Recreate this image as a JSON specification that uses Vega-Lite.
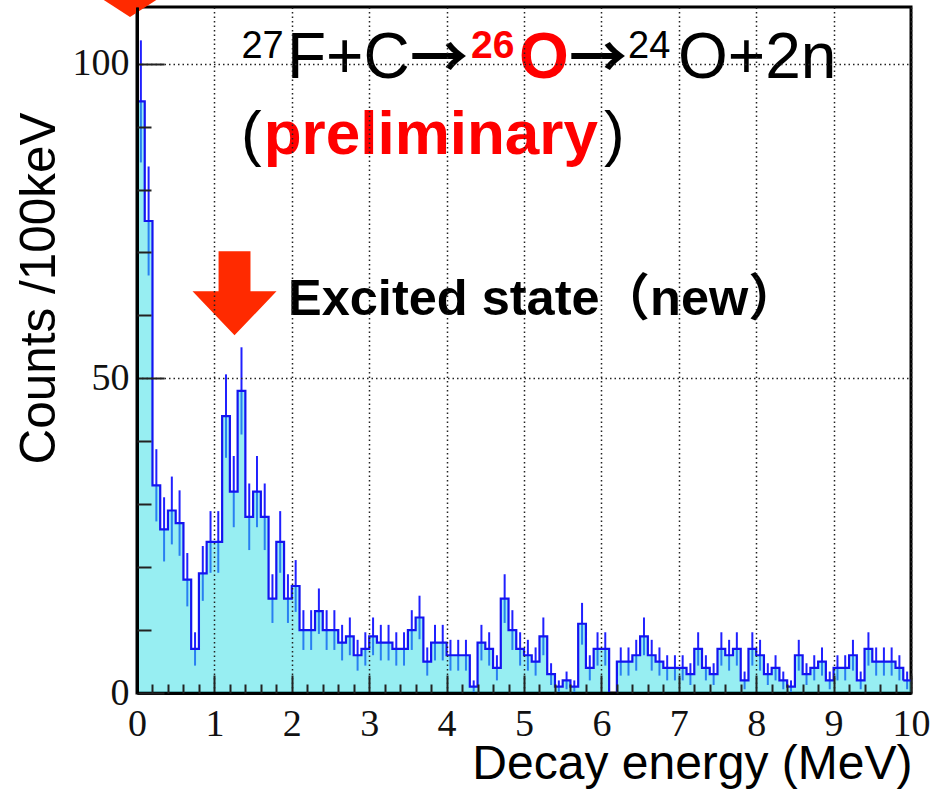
{
  "$schema": "https://vega.github.io/schema/vega-lite/v6.json",
  "width": 774,
  "height": 686,
  "autosize": {"type": "none"},
  "padding": {"left": 137, "top": 7, "right": 20, "bottom": 96},
  "background": "white",
  "view": {"stroke": "black", "strokeWidth": 3},
  "datasets": {
    "hist": [
      {"lo":0.0,"hi":0.1,"c":0.05,"n":94,"err":9.7},
      {"lo":0.1,"hi":0.2,"c":0.15,"n":75,"err":8.66},
      {"lo":0.2,"hi":0.3,"c":0.25,"n":33,"err":5.74},
      {"lo":0.3,"hi":0.4,"c":0.35,"n":26,"err":5.1},
      {"lo":0.4,"hi":0.5,"c":0.45,"n":29,"err":5.39},
      {"lo":0.5,"hi":0.6,"c":0.55,"n":27,"err":5.2},
      {"lo":0.6,"hi":0.7,"c":0.65,"n":18,"err":4.24},
      {"lo":0.7,"hi":0.8,"c":0.75,"n":7,"err":2.65},
      {"lo":0.8,"hi":0.9,"c":0.85,"n":19,"err":4.36},
      {"lo":0.9,"hi":1.0,"c":0.95,"n":24,"err":4.9},
      {"lo":1.0,"hi":1.1,"c":1.05,"n":24,"err":4.9},
      {"lo":1.1,"hi":1.2,"c":1.15,"n":44,"err":6.63},
      {"lo":1.2,"hi":1.3,"c":1.25,"n":32,"err":5.66},
      {"lo":1.3,"hi":1.4,"c":1.35,"n":48,"err":6.93},
      {"lo":1.4,"hi":1.5,"c":1.45,"n":28,"err":5.29},
      {"lo":1.5,"hi":1.6,"c":1.55,"n":32,"err":5.66},
      {"lo":1.6,"hi":1.7,"c":1.65,"n":28,"err":5.29},
      {"lo":1.7,"hi":1.8,"c":1.75,"n":15,"err":3.87},
      {"lo":1.8,"hi":1.9,"c":1.85,"n":24,"err":4.9},
      {"lo":1.9,"hi":2.0,"c":1.95,"n":15,"err":3.87},
      {"lo":2.0,"hi":2.1,"c":2.05,"n":17,"err":4.12},
      {"lo":2.1,"hi":2.2,"c":2.15,"n":10,"err":3.16},
      {"lo":2.2,"hi":2.3,"c":2.25,"n":10,"err":3.16},
      {"lo":2.3,"hi":2.4,"c":2.35,"n":13,"err":3.61},
      {"lo":2.4,"hi":2.5,"c":2.45,"n":10,"err":3.16},
      {"lo":2.5,"hi":2.6,"c":2.55,"n":10,"err":3.16},
      {"lo":2.6,"hi":2.7,"c":2.65,"n":8,"err":2.83},
      {"lo":2.7,"hi":2.8,"c":2.75,"n":9,"err":3},
      {"lo":2.8,"hi":2.9,"c":2.85,"n":6,"err":2.45},
      {"lo":2.9,"hi":3.0,"c":2.95,"n":7,"err":2.65},
      {"lo":3.0,"hi":3.1,"c":3.05,"n":9,"err":3},
      {"lo":3.1,"hi":3.2,"c":3.15,"n":8,"err":2.83},
      {"lo":3.2,"hi":3.3,"c":3.25,"n":8,"err":2.83},
      {"lo":3.3,"hi":3.4,"c":3.35,"n":7,"err":2.65},
      {"lo":3.4,"hi":3.5,"c":3.45,"n":7,"err":2.65},
      {"lo":3.5,"hi":3.6,"c":3.55,"n":10,"err":3.16},
      {"lo":3.6,"hi":3.7,"c":3.65,"n":12,"err":3.46},
      {"lo":3.7,"hi":3.8,"c":3.75,"n":5,"err":2.24},
      {"lo":3.8,"hi":3.9,"c":3.85,"n":8,"err":2.83},
      {"lo":3.9,"hi":4.0,"c":3.95,"n":8,"err":2.83},
      {"lo":4.0,"hi":4.1,"c":4.05,"n":6,"err":2.45},
      {"lo":4.1,"hi":4.2,"c":4.15,"n":6,"err":2.45},
      {"lo":4.2,"hi":4.3,"c":4.25,"n":6,"err":2.45},
      {"lo":4.3,"hi":4.4,"c":4.35,"n":1,"err":1},
      {"lo":4.4,"hi":4.5,"c":4.45,"n":8,"err":2.83},
      {"lo":4.5,"hi":4.6,"c":4.55,"n":7,"err":2.65},
      {"lo":4.6,"hi":4.7,"c":4.65,"n":4,"err":2},
      {"lo":4.7,"hi":4.8,"c":4.75,"n":15,"err":3.87},
      {"lo":4.8,"hi":4.9,"c":4.85,"n":10,"err":3.16},
      {"lo":4.9,"hi":5.0,"c":4.95,"n":7,"err":2.65},
      {"lo":5.0,"hi":5.1,"c":5.05,"n":6,"err":2.45},
      {"lo":5.1,"hi":5.2,"c":5.15,"n":5,"err":2.24},
      {"lo":5.2,"hi":5.3,"c":5.25,"n":9,"err":3},
      {"lo":5.3,"hi":5.4,"c":5.35,"n":3,"err":1.73},
      {"lo":5.4,"hi":5.5,"c":5.45,"n":1,"err":1},
      {"lo":5.5,"hi":5.6,"c":5.55,"n":2,"err":1.41},
      {"lo":5.6,"hi":5.7,"c":5.65,"n":1,"err":1},
      {"lo":5.7,"hi":5.8,"c":5.75,"n":11,"err":3.32},
      {"lo":5.8,"hi":5.9,"c":5.85,"n":4,"err":2},
      {"lo":5.9,"hi":6.0,"c":5.95,"n":7,"err":2.65},
      {"lo":6.0,"hi":6.1,"c":6.05,"n":7,"err":2.65},
      {"lo":6.1,"hi":6.2,"c":6.15,"n":0,"err":0},
      {"lo":6.2,"hi":6.3,"c":6.25,"n":5,"err":2.24},
      {"lo":6.3,"hi":6.4,"c":6.35,"n":5,"err":2.24},
      {"lo":6.4,"hi":6.5,"c":6.45,"n":6,"err":2.45},
      {"lo":6.5,"hi":6.6,"c":6.55,"n":9,"err":3},
      {"lo":6.6,"hi":6.7,"c":6.65,"n":6,"err":2.45},
      {"lo":6.7,"hi":6.8,"c":6.75,"n":5,"err":2.24},
      {"lo":6.8,"hi":6.9,"c":6.85,"n":4,"err":2},
      {"lo":6.9,"hi":7.0,"c":6.95,"n":4,"err":2},
      {"lo":7.0,"hi":7.1,"c":7.05,"n":4,"err":2},
      {"lo":7.1,"hi":7.2,"c":7.15,"n":3,"err":1.73},
      {"lo":7.2,"hi":7.3,"c":7.25,"n":7,"err":2.65},
      {"lo":7.3,"hi":7.4,"c":7.35,"n":4,"err":2},
      {"lo":7.4,"hi":7.5,"c":7.45,"n":3,"err":1.73},
      {"lo":7.5,"hi":7.6,"c":7.55,"n":7,"err":2.65},
      {"lo":7.6,"hi":7.7,"c":7.65,"n":6,"err":2.45},
      {"lo":7.7,"hi":7.8,"c":7.75,"n":7,"err":2.65},
      {"lo":7.8,"hi":7.9,"c":7.85,"n":2,"err":1.41},
      {"lo":7.9,"hi":8.0,"c":7.95,"n":7,"err":2.65},
      {"lo":8.0,"hi":8.1,"c":8.05,"n":6,"err":2.45},
      {"lo":8.1,"hi":8.2,"c":8.15,"n":3,"err":1.73},
      {"lo":8.2,"hi":8.3,"c":8.25,"n":4,"err":2},
      {"lo":8.3,"hi":8.4,"c":8.35,"n":2,"err":1.41},
      {"lo":8.4,"hi":8.5,"c":8.45,"n":1,"err":1},
      {"lo":8.5,"hi":8.6,"c":8.55,"n":6,"err":2.45},
      {"lo":8.6,"hi":8.7,"c":8.65,"n":3,"err":1.73},
      {"lo":8.7,"hi":8.8,"c":8.75,"n":4,"err":2},
      {"lo":8.8,"hi":8.9,"c":8.85,"n":5,"err":2.24},
      {"lo":8.9,"hi":9.0,"c":8.95,"n":2,"err":1.41},
      {"lo":9.0,"hi":9.1,"c":9.05,"n":4,"err":2},
      {"lo":9.1,"hi":9.2,"c":9.15,"n":4,"err":2},
      {"lo":9.2,"hi":9.3,"c":9.25,"n":6,"err":2.45},
      {"lo":9.3,"hi":9.4,"c":9.35,"n":2,"err":1.41},
      {"lo":9.4,"hi":9.5,"c":9.45,"n":7,"err":2.65},
      {"lo":9.5,"hi":9.6,"c":9.55,"n":5,"err":2.24},
      {"lo":9.6,"hi":9.7,"c":9.65,"n":5,"err":2.24},
      {"lo":9.7,"hi":9.8,"c":9.75,"n":5,"err":2.24},
      {"lo":9.8,"hi":9.9,"c":9.85,"n":4,"err":2},
      {"lo":9.9,"hi":10.0,"c":9.95,"n":2,"err":1.41}
    ]
  },
  "resolve": {"axis": {"x": "independent", "y": "independent"}},
  "layer": [
    {
      "data": {"name": "hist"},
      "mark": {"type": "errorbar", "ticks": false, "rule": {"color": "#2020ff", "strokeWidth": 2}},
      "encoding": {
        "x": {"field": "c", "type": "quantitative", "axis": null, "scale": {"domain": [0, 10], "nice": false}},
        "y": {"field": "n", "type": "quantitative", "axis": null, "scale": {"domain": [0, 109], "nice": false}},
        "yError": {"field": "err"}
      }
    },
    {
      "data": {"name": "hist"},
      "mark": {"type": "area", "interpolate": "step-after", "color": "#30dde6", "opacity": 0.5},
      "encoding": {
        "x": {
          "field": "lo", "type": "quantitative",
          "axis": {
            "values": [0, 1, 2, 3, 4, 5, 6, 7, 8, 9, 10],
            "format": "d",
            "orient": "bottom",
            "zindex": 1,
            "grid": true, "gridColor": "#222222", "gridWidth": 1.5, "gridDash": [1.5, 3],
            "domainColor": "black", "domainWidth": 3,
            "tickSize": -18, "tickWidth": 2, "tickColor": "#222222",
            "labelFont": "Liberation Serif", "labelFontSize": 38, "labelColor": "#111111",
            "labelPadding": 30, "labelFlush": false, "labelOverlap": false,
            "title": "Decay energy (MeV)",
            "titleFont": "Liberation Sans", "titleFontSize": 48, "titleFontWeight": "normal", "titleColor": "black",
            "titleAlign": "right", "titleBaseline": "alphabetic", "titleX": 775, "titleY": 85
          }
        },
        "y": {
          "field": "n", "type": "quantitative",
          "axis": {
            "values": [0, 50, 100],
            "orient": "left",
            "zindex": 1,
            "grid": true, "gridColor": "#222222", "gridWidth": 1.5, "gridDash": [1.5, 3],
            "domainColor": "black", "domainWidth": 3,
            "tickSize": -27, "tickWidth": 2, "tickColor": "#222222",
            "labelFont": "Liberation Serif", "labelFontSize": 38, "labelColor": "#111111",
            "labelPadding": 35, "labelFlush": false, "labelOverlap": false,
            "title": "Counts /100keV",
            "titleFont": "Liberation Sans", "titleFontSize": 49.5, "titleFontWeight": "normal", "titleColor": "black",
            "titleAngle": 270, "titleAlign": "center", "titleBaseline": "alphabetic", "titleX": -83, "titleY": 281
          }
        }
      }
    },
    {
      "data": {"name": "hist"},
      "transform": [{"filter": "datum.lo > 9.85"}],
      "mark": {"type": "rect", "color": "#30dde6", "opacity": 0.5},
      "encoding": {
        "x": {"field": "lo", "type": "quantitative", "axis": null},
        "x2": {"field": "hi"},
        "y": {"field": "n", "type": "quantitative", "axis": null},
        "y2": {"datum": 0}
      }
    },
    {
      "data": {"name": "hist"},
      "mark": {"type": "line", "interpolate": "step-after", "color": "#1414f0", "strokeWidth": 2.2},
      "encoding": {
        "x": {
          "field": "lo", "type": "quantitative",
          "axis": {
            "values": [0.2, 0.4, 0.6, 0.8, 1.2, 1.4, 1.6, 1.8, 2.2, 2.4, 2.6, 2.8, 3.2, 3.4, 3.6, 3.8, 4.2, 4.4, 4.6, 4.8, 5.2, 5.4, 5.6, 5.8, 6.2, 6.4, 6.6, 6.8, 7.2, 7.4, 7.6, 7.8, 8.2, 8.4, 8.6, 8.8, 9.2, 9.4, 9.6, 9.8],
            "orient": "bottom", "zindex": 1,
            "grid": false, "domain": false, "labels": false, "title": null,
            "tickSize": -9, "tickWidth": 2, "tickColor": "#222222"
          }
        },
        "y": {
          "field": "n", "type": "quantitative",
          "axis": {
            "values": [10, 20, 30, 40, 60, 70, 80, 90],
            "orient": "left", "zindex": 1,
            "grid": false, "domain": false, "labels": false, "title": null,
            "tickSize": -14, "tickWidth": 2, "tickColor": "#222222"
          }
        }
      }
    },
    {
      "data": {"name": "hist"},
      "transform": [{"filter": "datum.lo > 9.85"}],
      "mark": {"type": "rule", "color": "#1414f0", "strokeWidth": 2.2},
      "encoding": {
        "x": {"field": "lo", "type": "quantitative", "axis": null},
        "x2": {"field": "hi"},
        "y": {"field": "n", "type": "quantitative", "axis": null}
      }
    },
    {
      "data": {"values": [{"e": 1.26, "y": 63.5}]},
      "mark": {
        "type": "point", "filled": true, "opacity": 1, "color": "#ff2a00", "strokeWidth": 0,
        "size": 7056,
        "shape": "M-0.38,-1 L0.38,-1 L0.38,-0.05 L1,-0.05 L0,1 L-1,-0.05 L-0.38,-0.05 Z"
      },
      "encoding": {
        "x": {"field": "e", "type": "quantitative", "axis": null},
        "y": {"field": "y", "type": "quantitative", "axis": null}
      }
    },
    {
      "data": {"values": [{"e": -0.09, "y": 107.4}]},
      "mark": {
        "type": "point", "filled": true, "opacity": 1, "color": "#ff2a00", "strokeWidth": 0,
        "size": 1156,
        "shape": "M-2,-1.3 L2,-1.3 L0,0 Z"
      },
      "encoding": {
        "x": {"field": "e", "type": "quantitative", "axis": null},
        "y": {"field": "y", "type": "quantitative", "axis": null}
      }
    },
    {
      "data": {"values": [
        {"e": 1.938, "y": 97.7, "t": "F+C"},
        {"e": 6.99, "y": 97.7, "t": "O+2n"}
      ]},
      "mark": {"type": "text", "align": "left", "baseline": "alphabetic", "font": "Liberation Sans", "fontSize": 64, "color": "black"},
      "encoding": {
        "x": {"field": "e", "type": "quantitative", "axis": null},
        "y": {"field": "y", "type": "quantitative", "axis": null},
        "text": {"field": "t"}
      }
    },
    {
      "data": {"values": [
        {"e": 1.344, "y": 85.7, "t": "("},
        {"e": 6.034, "y": 85.7, "t": ")"}
      ]},
      "mark": {"type": "text", "align": "left", "baseline": "alphabetic", "font": "Liberation Sans", "fontSize": 62, "color": "black"},
      "encoding": {
        "x": {"field": "e", "type": "quantitative", "axis": null},
        "y": {"field": "y", "type": "quantitative", "axis": null},
        "text": {"field": "t"}
      }
    },
    {
      "data": {"values": [
        {"e": 3.527, "y": 97.7, "t": "→"},
        {"e": 5.581, "y": 97.7, "t": "→"}
      ]},
      "mark": {"type": "text", "align": "left", "baseline": "alphabetic", "font": "Noto Sans CJK JP", "fontSize": 58, "fontWeight": "bold", "color": "black"},
      "encoding": {
        "x": {"field": "e", "type": "quantitative", "axis": null},
        "y": {"field": "y", "type": "quantitative", "axis": null},
        "text": {"field": "t"}
      }
    },
    {
      "data": {"values": [
        {"e": 1.35, "y": 100.95, "t": "27"},
        {"e": 6.344, "y": 100.95, "t": "24"}
      ]},
      "mark": {"type": "text", "align": "left", "baseline": "alphabetic", "font": "Liberation Sans", "fontSize": 38, "color": "black"},
      "encoding": {
        "x": {"field": "e", "type": "quantitative", "axis": null},
        "y": {"field": "y", "type": "quantitative", "axis": null},
        "text": {"field": "t"}
      }
    },
    {
      "data": {"values": [{"e": 4.935, "y": 97.7, "t": "O"}]},
      "mark": {"type": "text", "align": "left", "baseline": "alphabetic", "font": "Liberation Sans", "fontSize": 64, "fontWeight": "bold", "color": "#ff0000"},
      "encoding": {
        "x": {"field": "e", "type": "quantitative", "axis": null},
        "y": {"field": "y", "type": "quantitative", "axis": null},
        "text": {"field": "t"}
      }
    },
    {
      "data": {"values": [{"e": 1.637, "y": 85.7, "t": "preliminary"}]},
      "mark": {"type": "text", "align": "left", "baseline": "alphabetic", "font": "Liberation Sans", "fontSize": 62, "fontWeight": "bold", "color": "#ff0000"},
      "encoding": {
        "x": {"field": "e", "type": "quantitative", "axis": null},
        "y": {"field": "y", "type": "quantitative", "axis": null},
        "text": {"field": "t"}
      }
    },
    {
      "data": {"values": [{"e": 4.315, "y": 100.95, "t": "26"}]},
      "mark": {"type": "text", "align": "left", "baseline": "alphabetic", "font": "Liberation Sans", "fontSize": 39, "fontWeight": "bold", "color": "#ff0000"},
      "encoding": {
        "x": {"field": "e", "type": "quantitative", "axis": null},
        "y": {"field": "y", "type": "quantitative", "axis": null},
        "text": {"field": "t"}
      }
    },
    {
      "data": {"values": [{"e": 1.951, "y": 60.1, "t": "Excited state（new）"}]},
      "mark": {"type": "text", "align": "left", "baseline": "alphabetic", "font": "Liberation Sans, Noto Sans CJK JP", "fontSize": 50.5, "fontWeight": "bold", "color": "black"},
      "encoding": {
        "x": {"field": "e", "type": "quantitative", "axis": null},
        "y": {"field": "y", "type": "quantitative", "axis": null},
        "text": {"field": "t"}
      }
    }
  ]
}
